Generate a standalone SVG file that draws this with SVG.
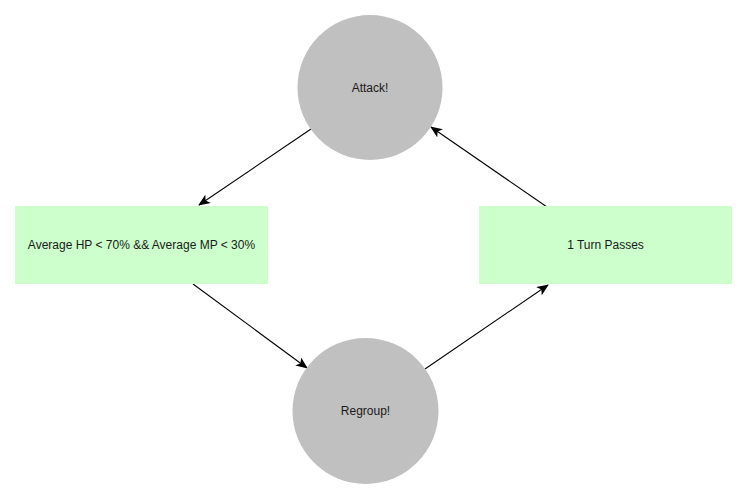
<svg xmlns="http://www.w3.org/2000/svg" width="746" height="498" viewBox="0 0 746 498">
<style>
.c{fill:#c0c0c0;}
.r{fill:#ccffcc;}
.t{font-family:"Liberation Sans",Arial,sans-serif;font-size:12px;fill:#1a1a1a;text-anchor:middle;dominant-baseline:central;}
.e{stroke:#000;stroke-width:1.1;fill:none;marker-end:url(#ah);}
</style>
<defs>
<marker id="ah" viewBox="0 0 12 10" refX="11" refY="5" markerWidth="12" markerHeight="10" markerUnits="userSpaceOnUse" orient="auto">
<path d="M0,0 L12,5 L0,10 L3,5 Z" fill="#000"/>
</marker>
</defs>
<rect width="746" height="498" fill="#fff"/>
<g id="connectors">
<line class="e" x1="311" y1="129" x2="199" y2="205"/>
<line class="e" x1="193" y1="284" x2="307" y2="368"/>
<line class="e" x1="425" y1="369" x2="548" y2="285"/>
<line class="e" x1="547" y1="207" x2="431" y2="127"/>
</g>
<g id="attack">
<circle class="c" cx="370" cy="87.5" r="72.5"/>
<text class="t" x="370" y="88">Attack!</text>
</g>
<g id="regroup">
<circle class="c" cx="365.5" cy="411" r="73"/>
<text class="t" x="365.5" y="411">Regroup!</text>
</g>
<g id="condition">
<rect class="r" x="15" y="206" width="253" height="78"/>
<text class="t" x="141.5" y="245">Average HP &lt; 70% &amp;&amp; Average MP &lt; 30%</text>
</g>
<g id="turn">
<rect class="r" x="479" y="206" width="253" height="78"/>
<text class="t" x="605.5" y="245">1 Turn Passes</text>
</g>
</svg>
